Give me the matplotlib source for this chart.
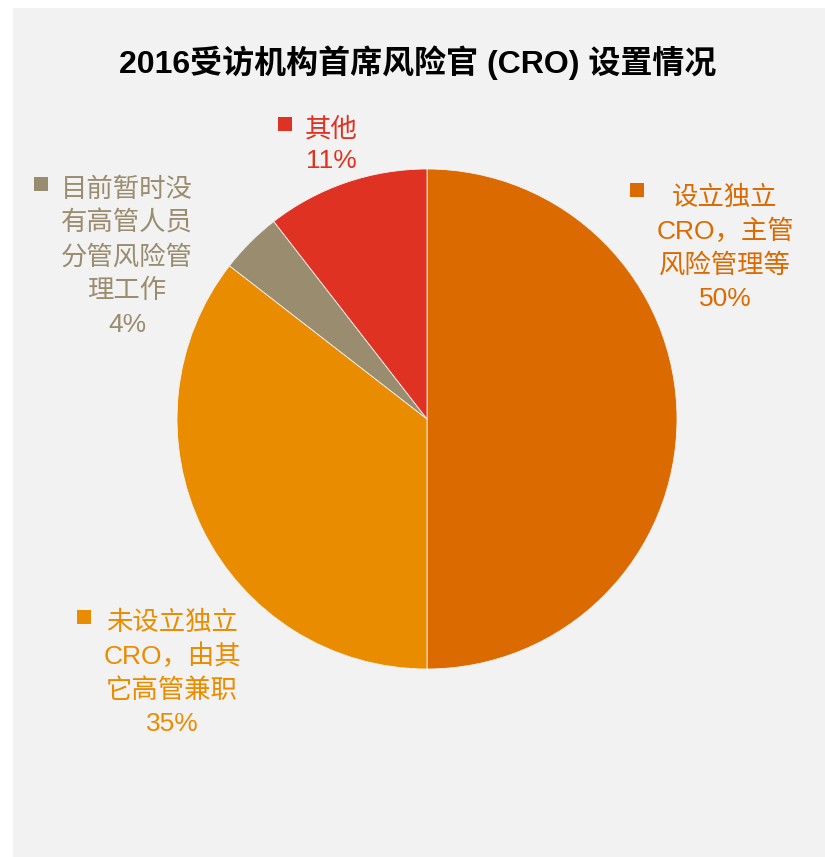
import matplotlib
matplotlib.use("Agg")
import matplotlib.pyplot as plt
from matplotlib.patches import Rectangle

plt.rcParams['font.family'] = ['Liberation Sans', 'Noto Sans CJK SC', 'DejaVu Sans']

title = "2016受访机构首席风险官 (CRO) 设置情况"
categories = ["设立独立\nCRO，主管\n风险管理等", "未设立独立\nCRO，由其\n它高管兼职",
              "目前暂时没\n有高管人员\n分管风险管\n理工作", "其他"]
values = [50, 35.5, 4, 10.5]
pct_labels = ["50%", "35%", "4%", "11%"]
colors = ["#DB6A00", "#EA8C00", "#9A8C6E", "#E03222"]

W, H = 825, 857
fig = plt.figure(figsize=(W / 100, H / 100), dpi=100)
fig.patch.set_facecolor("white")
fig.patches.append(Rectangle((13 / W, 0), 1 - 13 / W, 1 - 8 / H, transform=fig.transFigure,
                             facecolor="#F2F2F2", edgecolor="none", zorder=-10))

cx, cy, r = 427, 419, 250
ax = fig.add_axes([(cx - r) / W, (H - cy - r) / H, 2 * r / W, 2 * r / H])
ax.set_zorder(1)
ax.set_facecolor("none")
ax.pie(values, colors=colors, startangle=90, counterclock=False, radius=1,
       wedgeprops=dict(edgecolor="#F2F2F2", linewidth=0.6))
ax.set_xlim(-1, 1)
ax.set_ylim(-1, 1)
ax.set_aspect("equal")
ax.axis("off")

fig.text(418 / W, 1 - (63 + 10) / H, title, ha="center", va="baseline", fontsize=23,
         fontweight="bold", color="black")

# label placements: (text center x, first line center y, line step, marker x, marker y)
places = [(725, 195, 33.8, 637, 190), (172, 620, 33.8, 84, 617),
          (127, 187, 33.8, 41, 184), (331, 127, 31, 285, 124)]
for cat, p, c, (tx, ty, step, mx, my) in zip(categories, pct_labels, colors, places):
    lines = cat.split("\n") + [p]
    for i, ln in enumerate(lines):
        y = ty + i * step + 10
        fig.text(tx / W, 1 - y / H, ln, ha="center", va="baseline", fontsize=19, color=c)
    fig.patches.append(Rectangle(((mx - 7) / W, 1 - (my + 7) / H), 14 / W, 14 / H,
                                 transform=fig.transFigure, facecolor=c, edgecolor="none", zorder=3))

fig.savefig("out.png", dpi=100)
